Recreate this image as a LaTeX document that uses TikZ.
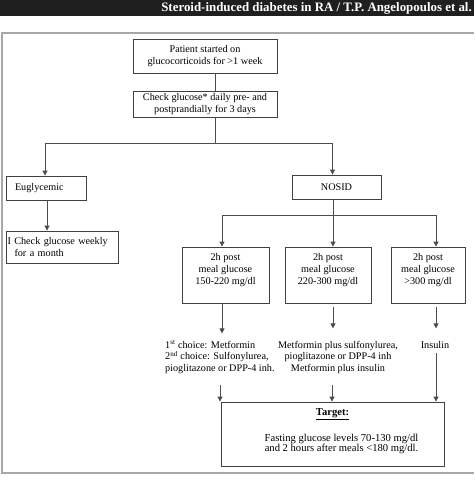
\documentclass[tikz,border=0pt]{standalone}
\usepackage{fontspec}
\setmainfont{Liberation Serif}
\usetikzlibrary{arrows.meta}
\begin{document}
\begin{tikzpicture}[x=1pt,y=-1pt,
  font=\fontsize{10.2}{11.5}\selectfont,
  box/.style={draw=black!75, line width=0.8pt, inner sep=0pt, align=center},
  conn/.style={draw=black!70, line width=0.8pt},
  arr/.style={conn, -{Triangle[width=5pt,length=5pt]}},
  txt/.style={inner sep=0pt}]
\useasboundingbox (0,0) rectangle (474,487);
% header
\fill[black!88] (0,0) rectangle (474,16);
\node[anchor=east, text=white, inner sep=0pt, font=\fontsize{12.9}{14}\selectfont\bfseries] (hdr) at (472,8.5) {Steroid-induced diabetes in RA / T.P. Angelopoulos et al.};
% frame
\draw[black!35, line width=1.5pt] (474,33) -- (2,33) -- (2,473) -- (474,473);
% nodes
\node[box, minimum width=144, minimum height=34] (b1) at (205,56) {Patient started on\\glucocorticoids for >1 week};
\node[box, minimum width=144, minimum height=26] (b2) at (205,104) {Check glucose* daily pre- and\\postprandially for 3 days};
\node[box, minimum width=80, minimum height=24] (eu) at (46,188) {\makebox[62pt][l]{Euglycemic}};
\node[box, minimum width=89, minimum height=24] (nosid) at (336.5,187) {NOSID};
\node[box, minimum width=112, minimum height=32, text width=109, align=left] (wk) at (62,247) {I Check glucose weekly\\\hspace*{7pt}for a month};
\node[box, minimum width=87, minimum height=56, font=\fontsize{10.2}{12}\selectfont] (pa) at (225.5,275) {2h post\\meal glucose\\150-220 mg/dl\\\mbox{}};
\node[box, minimum width=86, minimum height=56, font=\fontsize{10.2}{12}\selectfont] (pb) at (328,275) {2h post\\meal glucose\\220-300 mg/dl\\\mbox{}};
\node[box, minimum width=74, minimum height=56, font=\fontsize{10.2}{12}\selectfont] (pc) at (428,275) {2h post\\meal glucose\\>300 mg/dl\\\mbox{}};
\node[txt, align=left, anchor=west] (ta) at (165,357) {1\textsuperscript{st} choice: Metformin\\2\textsuperscript{nd} choice: Sulfonylurea,\\pioglitazone or DPP-4 inh.};
\node[txt, align=center] (tb) at (338,357) {Metformin plus sulfonylurea,\\pioglitazone or DPP-4 inh\\Metformin plus insulin};
\node[txt] (tc) at (435,345) {Insulin};
\node[box, minimum width=223, minimum height=64, font=\fontsize{10.6}{10}\selectfont] (tg) at (332.5,434) {\textbf{\underline{Target:}}\\[14pt]\hspace*{18pt}Fasting glucose levels 70-130 mg/dl\\\hspace*{18pt}and 2 hours after meals <180 mg/dl.\\[-2pt]\mbox{}};
% junction coordinates
\coordinate (j1) at (215,143);
\coordinate (j2) at (333,215);
\coordinate (jl) at (222,215);
\coordinate (jr) at (436,215);
\coordinate (ea) at (220,385);
\coordinate (eb) at (332,385);
\coordinate (ec) at (436,353);
% connectors
\draw[conn] ([xshift=10pt]b1.south) -- ([xshift=10pt]b2.north);
\draw[conn] ([xshift=10pt]b2.south) -- (j1);
\draw[arr] (j1) -| ([xshift=-1pt]eu.north);
\draw[arr] (j1) -| ([xshift=-4pt]nosid.north);
\draw[arr] ([xshift=1pt]eu.south) -- ([xshift=1pt]eu.south |- wk.north);
\draw[conn] (nosid.south -| j2) -- (j2);
\draw[conn] (jl) -- (jr);
\draw[arr] (jl) -- (jl |- pa.north);
\draw[arr] (j2) -- (j2 |- pb.north);
\draw[arr] (jr) -- (jr |- pc.north);
\draw[arr] ([xshift=-3.5pt]pa.south) -- ++(0,30);
\draw[arr] ([xshift=5pt,yshift=-4pt]pb.south) -- ++(0,21);
\draw[arr] ([xshift=8pt,yshift=-4pt]pc.south) -- ++(0,21);
\draw[arr] (ea) -- (ea |- tg.north);
\draw[arr] (eb) -- (eb |- tg.north);
\draw[arr] (ec) -- (ec |- tg.north);
\end{tikzpicture}
\end{document}
